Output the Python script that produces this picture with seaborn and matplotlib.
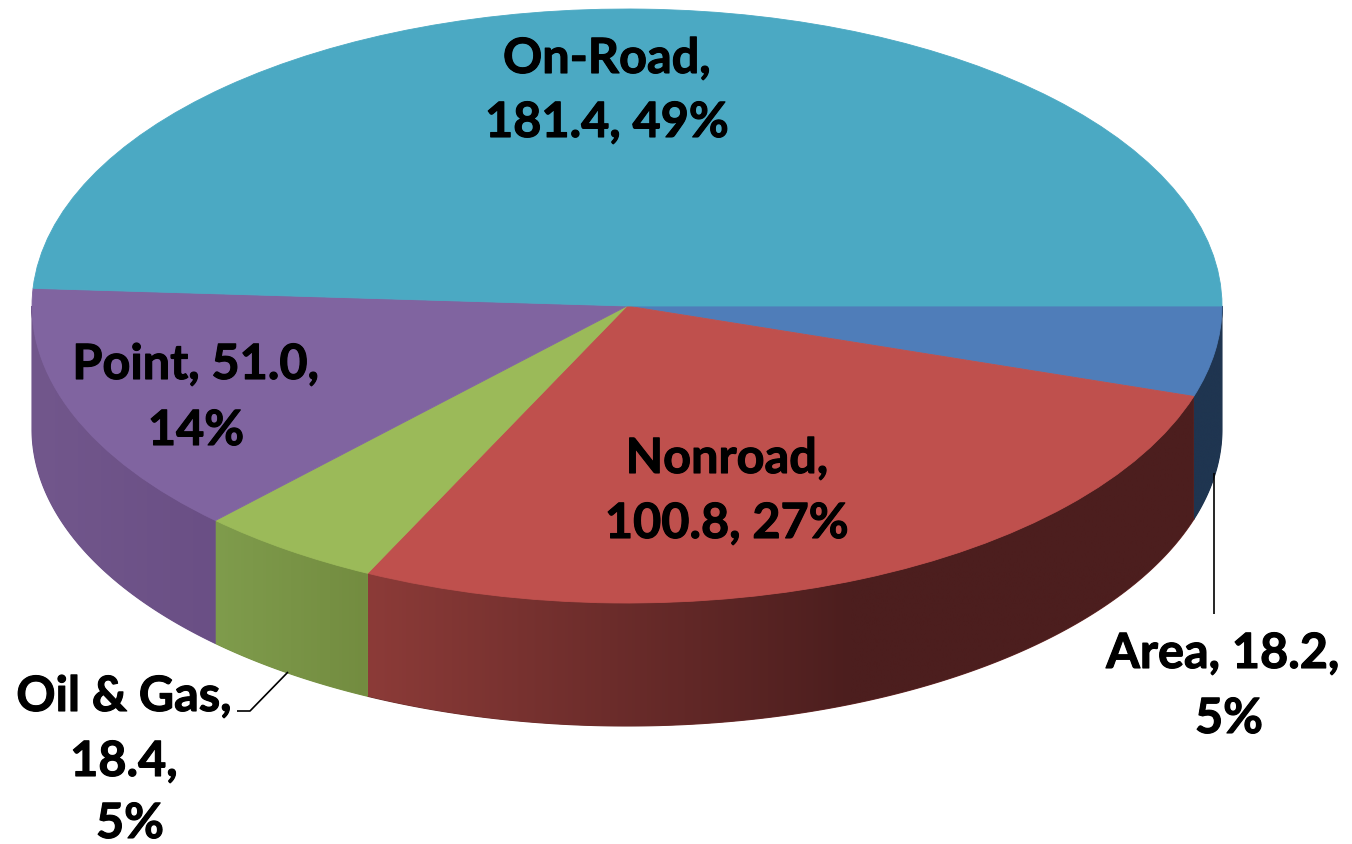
import matplotlib
matplotlib.use('Agg')
import matplotlib.pyplot as plt
import matplotlib.colors as mcolors
import matplotlib.patheffects as pe
from matplotlib.patches import Polygon
import numpy as np
import seaborn as sns

# clockwise from 3 o'clock, same order as the slices in the picture
categories = ['Area', 'Nonroad', 'Oil & Gas', 'Point', 'On-Road']
values = [18.2, 100.8, 18.4, 51.0, 181.4]
top_colors = ['#4F7DB9', '#BF504D', '#9BBA59', '#8064A0', '#4BA9C3']
# side wall shading, colour at left end and right end of each slice
wall_left = ['#1F3550', '#8C3B38', '#7F9C4C', '#72578C', '#000000']
wall_right = ['#1F3550', '#4C1E1E', '#738C40', '#6A4F85', '#000000']

# text lines, each with centre x and baseline y in image pixels
text_lines = ['On-Road,', '181.4, 49%', 'Point, 51.0,', '14%', 'Nonroad,', '100.8, 27%',
              'Oil & Gas,', '18.4,', '5%', 'Area, 18.2,', '5%']
text_x = [607, 607, 196, 196, 727, 727, 124, 124, 130, 1223, 1229]
text_y = [74, 138, 380, 446, 474, 539, 712, 777, 839, 669, 734]

W, H = 1352, 845
CX, CY, RX, RY = 627, 307, 595, 297
DEPTH = 123 / RY
GRAD_END = 850  # nonroad wall stops darkening around here

sns.set_theme(style='white')
plt.rcParams['font.family'] = ['Lato', 'DejaVu Sans']

fig, ax = plt.subplots(figsize=(W / 100, H / 100), dpi=100)
fig.subplots_adjust(0, 0, 1, 1)

wedges, _ = ax.pie(values, colors=sns.color_palette(top_colors), startangle=0, counterclock=False,
                   wedgeprops={'linewidth': 0.6, 'zorder': 3})
for w in wedges:
    w.set_edgecolor(w.get_facecolor())

# side wall: horizontal gradient image clipped to the rim of each front slice
edges = np.concatenate([[0], np.cumsum(values)]) / np.sum(values) * np.pi * 2
for i, name in enumerate(categories):
    t0, t1 = edges[i], min(edges[i + 1], np.pi)
    if t0 >= np.pi:
        continue
    left = np.array(mcolors.to_rgb(wall_left[i]))
    right = np.array(mcolors.to_rgb(wall_right[i]))
    ts = np.linspace(t0, t1, 300)
    xs, tops = np.cos(ts), -np.sin(ts)
    x_min, x_max = xs.min(), xs.max()
    grad_max = (GRAD_END - CX) / RX if name == 'Nonroad' else x_max
    k = np.clip((np.linspace(x_min, x_max, 600) - x_min) / (grad_max - x_min), 0, 1)
    grad = (left[None, :] + (right - left)[None, :] * k[:, None])[None, :, :]
    outline = np.vstack([np.column_stack([xs, tops]),
                         np.column_stack([xs[::-1], tops[::-1] - DEPTH])])
    # flat underlay closes the seams the clipped image leaves at slice borders
    ax.fill(outline[:, 0], outline[:, 1], color=(left + right) / 2, linewidth=0.8, zorder=1)
    im = ax.imshow(grad, extent=(x_min, x_max, tops.min() - DEPTH, tops.max()),
                   aspect='auto', interpolation='bilinear', zorder=2)
    im.set_clip_path(Polygon(outline, closed=True, transform=ax.transData))

ax.set_aspect('auto')
ax.set_xlim(-CX / RX, (W - CX) / RX)
ax.set_ylim((CY - H) / RY, CY / RY)


def to_data(px, py):
    return (px - CX) / RX, (CY - py) / RY


# leader lines
for pts in ([(1213.5, 474), (1213.5, 615)], [(288, 673), (250, 712), (237, 712)]):
    xy = np.array([to_data(*p) for p in pts])
    ax.plot(xy[:, 0], xy[:, 1], color='black', linewidth=1.2, zorder=4, solid_capstyle='butt')

for line, x, y in zip(text_lines, text_x, text_y):
    fig.text(x / W, 1 - y / H, line, ha='center', va='baseline', fontsize=35,
             fontweight='bold', color='black',
             path_effects=[pe.withStroke(linewidth=0.8, foreground='black')])

fig.savefig('out.png', dpi=100, facecolor='white')
